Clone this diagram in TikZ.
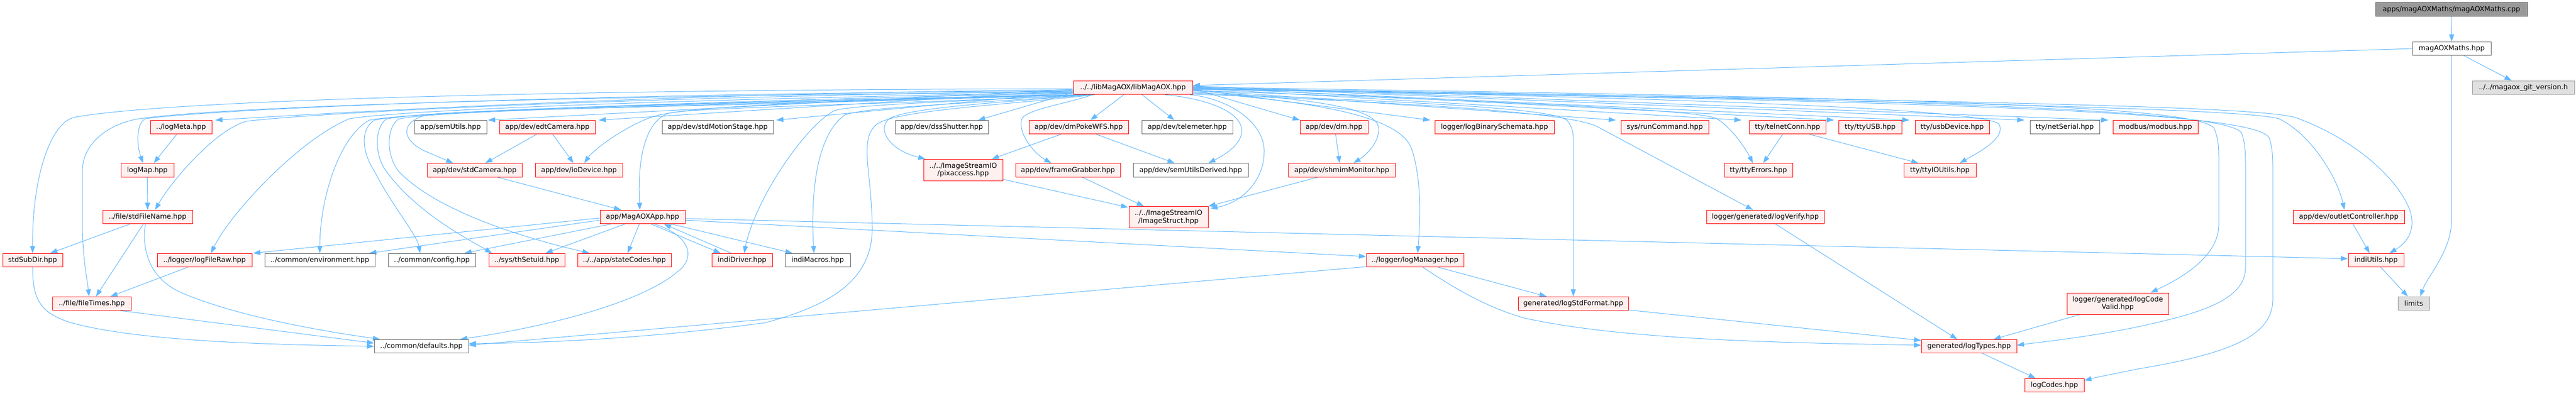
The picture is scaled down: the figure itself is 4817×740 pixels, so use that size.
\documentclass[tikz,border=0pt]{standalone}
\usepackage{fontspec}
\setmainfont{DejaVu Sans}
\usetikzlibrary{arrows.meta,calc,backgrounds}
\definecolor{edgeblue}{HTML}{63B8FF}
\definecolor{redfill}{HTML}{FFF0F0}
\definecolor{grayforty}{HTML}{666666}
\definecolor{graysixty}{HTML}{999999}
\definecolor{extfill}{HTML}{E0E0E0}
\begin{document}
\begin{tikzpicture}[x=0.75pt,y=-0.75pt,
  box/.style={draw, line width=0.75pt, inner sep=0pt, minimum height=19.1pt, align=center,
    font=\fontsize{9.7pt}{10.6pt}\selectfont, text=black},
  redbox/.style={box, draw=red, fill=redfill},
  graybox/.style={box, draw=grayforty, fill=white},
  extbox/.style={box, draw=graysixty, fill=extfill},
  rootbox/.style={box, draw=grayforty, fill=graysixty},
  nw/.style={minimum width=#1*0.75pt},
  twoline/.style={minimum height=30pt},
  dep/.style={draw=edgeblue, line width=0.75pt, -{Triangle[length=10pt,width=7pt]}}
]
\useasboundingbox (0,0) rectangle (4817,740);
% ---------- nodes ----------
\node[rootbox, nw=284, minimum height=19.5pt] (root) at (4584,17.7) {apps/magAOXMaths/magAOXMaths.cpp};
\node[graybox, nw=147] (mmhpp) at (4584.5,91) {magAOXMaths.hpp};
\node[redbox, nw=223] (lib) at (2118.5,164) {../../libMagAOX/libMagAOX.hpp};
\node[extbox, nw=191] (git) at (4718.5,164) {../../magaox\_git\_version.h};
% row 3
\node[redbox, nw=115] (logMeta) at (338.5,238) {../logMeta.hpp};
\node[graybox, nw=135] (semUtils) at (842.5,238) {app/semUtils.hpp};
\node[redbox, nw=179] (edtCamera) at (1023.5,238) {app/dev/edtCamera.hpp};
\node[graybox, nw=208] (stdMotion) at (1342,238) {app/dev/stdMotionStage.hpp};
\node[graybox, nw=174] (dssShutter) at (1761,238) {app/dev/dssShutter.hpp};
\node[redbox, nw=186] (dmPoke) at (2017,238) {app/dev/dmPokeWFS.hpp};
\node[graybox, nw=170] (telemeter) at (2220,238) {app/dev/telemeter.hpp};
\node[redbox, nw=127] (dm) at (2494.5,238) {app/dev/dm.hpp};
\node[redbox, nw=223] (logBinary) at (2794.5,238) {logger/logBinarySchemata.hpp};
\node[redbox, nw=164] (runCommand) at (3113,238) {sys/runCommand.hpp};
\node[redbox, nw=143] (telnet) at (3342.5,238) {tty/telnetConn.hpp};
\node[redbox, nw=118] (ttyUSB) at (3497,238) {tty/ttyUSB.hpp};
\node[redbox, nw=139] (usbDevice) at (3650.5,238) {tty/usbDevice.hpp};
\node[graybox, nw=130] (netSerial) at (3861,238) {tty/netSerial.hpp};
\node[redbox, nw=159] (modbus) at (4030.5,238) {modbus/modbus.hpp};
% row 4
\node[redbox, nw=99] (logMap) at (275.5,318.5) {logMap.hpp};
\node[redbox, nw=177] (stdCamera) at (887.5,318.5) {app/dev/stdCamera.hpp};
\node[redbox, nw=163] (ioDevice) at (1082.5,318.5) {app/dev/ioDevice.hpp};
\node[redbox, nw=148, twoline] (pixaccess) at (1801,318) {../../ImageStreamIO\\/pixaccess.hpp};
\node[redbox, nw=196] (frameGrabber) at (1997,318.5) {app/dev/frameGrabber.hpp};
\node[graybox, nw=215] (semDerived) at (2226.5,318.5) {app/dev/semUtilsDerived.hpp};
\node[redbox, nw=200] (shmim) at (2509,318.5) {app/dev/shmimMonitor.hpp};
\node[redbox, nw=128] (ttyErrors) at (3288,318.5) {tty/ttyErrors.hpp};
\node[redbox, nw=135] (ttyIO) at (3627.5,318.5) {tty/ttyIOUtils.hpp};
% row 5
\node[redbox, nw=168] (stdFileName) at (276,406) {../file/stdFileName.hpp};
\node[redbox, nw=159] (MagAOXApp) at (1201.5,406) {app/MagAOXApp.hpp};
\node[redbox, nw=148, twoline] (ImageStruct) at (2185,406.5) {../../ImageStreamIO\\/ImageStruct.hpp};
\node[redbox, nw=220] (logVerify) at (3301,406) {logger/generated/logVerify.hpp};
\node[redbox, nw=208] (outlet) at (4392,406) {app/dev/outletController.hpp};
% row 6
\node[redbox, nw=112] (stdSubDir) at (61,487) {stdSubDir.hpp};
\node[redbox, nw=177] (logFileRaw) at (382.5,487) {../logger/logFileRaw.hpp};
\node[graybox, nw=206] (environment) at (598,487) {../common/environment.hpp};
\node[graybox, nw=163] (config) at (807.5,487) {../common/config.hpp};
\node[redbox, nw=142] (thSetuid) at (985,487) {../sys/thSetuid.hpp};
\node[redbox, nw=175] (stateCodes) at (1167.5,487) {../../app/stateCodes.hpp};
\node[redbox, nw=113] (indiDriver) at (1387.5,487) {indiDriver.hpp};
\node[graybox, nw=122] (indiMacros) at (1529,487) {indiMacros.hpp};
\node[redbox, nw=182] (logManager) at (2646,487) {../logger/logManager.hpp};
\node[redbox, nw=104] (indiUtils) at (4443,487) {indiUtils.hpp};
% row 7
\node[redbox, nw=147] (fileTimes) at (171.5,568) {../file/fileTimes.hpp};
\node[redbox, nw=206] (logStdFormat) at (2942,568) {generated/logStdFormat.hpp};
\node[redbox, nw=190, twoline] (logCodeValid) at (3960,568) {logger/generated/logCode\\Valid.hpp};
\node[extbox, nw=59] (limits) at (4513.5,568) {limits};
% row 8, 9
\node[graybox, nw=176] (defaults) at (788,648) {../common/defaults.hpp};
\node[redbox, nw=178] (logTypes) at (3682,648) {generated/logTypes.hpp};
\node[redbox, nw=111] (logCodes) at (3841.5,721) {logCodes.hpp};
% ---------- edges ----------
\begin{scope}[on background layer]
\draw[dep] (root.south) -- (mmhpp.north);
\draw[dep] (mmhpp.west) -- ($(lib.east)+(0,-4)$);
\draw[dep] ($(mmhpp.south east)+(-51,0)$) -- ($(git.north)+(-22,0)$);
\draw[dep] (mmhpp.south) -- (4584.5,410) .. controls (4584.5,470) and (4540,515) .. ($(limits.north)+(12,0)$);
% lib -> left side
\draw[dep] ($(lib.west)+(0,2)$) .. controls (1000,168) and (320,188) .. (141,219) .. controls (95,227) and (60,330) .. (stdSubDir.north);
\draw[dep] ($(lib.west)+(0,8)$) .. controls (1000,180) and (420,200) .. (261,222) .. controls (200,232) and (154,270) .. (154,320) -- (154,420) .. controls (154,480) and (164,530) .. ($(fileTimes.north)+(-5,0)$);
\draw[dep] ($(lib.west)+(0,6)$) .. controls (1000,176) and (400,205) .. (272,222) .. controls (255,230) and (255,270) .. ($(logMap.north)+(-8,0)$);
\draw[dep] ($(lib.west)+(0,4)$) .. controls (1400,172) and (800,200) .. ($(logMeta.north east)+(6,0)$);
\draw[dep] ($(lib.west)+(0,7)$) .. controls (1200,180) and (600,210) .. (460,227) .. controls (400,245) and (320,340) .. ($(stdFileName.north)+(14,0)$);
\draw[dep] ($(lib.west)+(0,9)$) .. controls (1300,185) and (760,205) .. (654,222) .. controls (560,260) and (430,400) .. ($(logFileRaw.north)+(12,0)$);
\draw[dep] ($(lib.west)+(0,10)$) .. controls (1300,190) and (760,210) .. (690,225) .. controls (630,260) and (598,380) .. (environment.north);
\draw[dep] (lib.south west) .. controls (1400,190) and (780,205) .. (700,225) .. controls (670,245) and (680,290) .. (700,320) .. controls (730,380) and (780,440) .. ($(config.north)+(-22,0)$);
\draw[dep] ($(lib.south west)+(5,0)$) .. controls (1400,192) and (790,205) .. (722,223) .. controls (700,240) and (700,290) .. (722,320) .. controls (780,400) and (880,450) .. ($(thSetuid.north)+(-65,0)$);
\draw[dep] ($(lib.south west)+(10,0)$) .. controls (1400,195) and (810,205) .. (745,223) .. controls (722,240) and (722,290) .. (745,320) .. controls (820,400) and (1000,450) .. ($(stateCodes.north)+(-65,0)$);
\draw[dep] ($(lib.south west)+(15,0)$) .. controls (1400,198) and (860,205) .. (800,215) .. controls (750,225) and (745,262) .. (800,285) -- ($(stdCamera.north)+(-40,0)$);
\draw[dep] ($(lib.west)+(0,3)$) -- ($(semUtils.north east)+(2,0)$);
\draw[dep] ($(lib.west)+(0,5)$) -- ($(edtCamera.north east)+(6,0)$);
\draw[dep] ($(lib.west)+(0,8)$) -- ($(stdMotion.north east)+(5,0)$);
\draw[dep] ($(lib.west)+(0,11)$) .. controls (1600,190) and (1300,195) .. (1222,218) .. controls (1170,235) and (1110,280) .. ($(ioDevice.north)+(10,0)$);
\draw[dep] ($(lib.south west)+(20,0)$) .. controls (1700,195) and (1300,200) .. (1250,212) .. controls (1205,228) and (1192,300) .. ($(MagAOXApp.north)+(-5,0)$);
\draw[dep] ($(lib.south west)+(25,0)$) .. controls (1800,190) and (1600,195) .. (1560,207) .. controls (1500,240) and (1410,380) .. ($(indiDriver.north)+(4,0)$);
\draw[dep] ($(lib.south west)+(30,0)$) .. controls (1800,195) and (1620,200) .. (1580,215) .. controls (1530,250) and (1515,350) .. ($(indiMacros.north)+(-7,0)$);
\draw[dep] ($(lib.west)+(0,9)$) -- ($(dssShutter.north)+(68,0)$);
\draw[dep] ($(lib.south west)+(35,0)$) .. controls (1900,190) and (1700,200) .. (1663,222) .. controls (1640,240) and (1660,280) .. ($(pixaccess.north west)+(4,0)$);
\draw[dep] ($(lib.south west)+(40,0)$) .. controls (1900,195) and (1680,205) .. (1640,232) .. controls (1605,260) and (1630,320) .. (1631,425) .. controls (1632,520) and (1560,570) .. (1430,604) .. controls (1200,635) and (1000,642) .. ($(defaults.east)+(0,-5)$);
\draw[dep] ($(lib.south)+(-75,0)$) .. controls (1990,195) and (1920,205) .. (1911,222) .. controls (1902,245) and (1930,285) .. ($(frameGrabber.north)+(-31,0)$);
\draw[dep] ($(lib.south)+(-17,0)$) -- ($(dmPoke.north)+(22,0)$);
\draw[dep] ($(lib.south)+(17,0)$) -- ($(telemeter.north)+(-24,0)$);
\draw[dep] ($(lib.south)+(60,0)$) .. controls (2260,185) and (2322,210) .. (2322,245) .. controls (2322,270) and (2290,290) .. ($(semDerived.north)+(33,0)$);
\draw[dep] ($(lib.south east)+(-5,0)$) .. controls (2300,185) and (2364,230) .. (2364,283) .. controls (2364,340) and (2320,380) .. ($(ImageStruct.north east)+(4,4)$);
% lib -> right side
\draw[dep] ($(lib.east)+(0,2)$) -- (dm.north west);
\draw[dep] ($(lib.east)+(0,6)$) .. controls (2450,185) and (2575,200) .. (2578,240) .. controls (2580,265) and (2555,290) .. ($(shmim.north)+(22,0)$);
\draw[dep] ($(lib.east)+(0,8)$) .. controls (2450,190) and (2620,215) .. (2640,280) .. controls (2660,340) and (2655,420) .. ($(logManager.north)+(5,0)$);
\draw[dep] ($(lib.east)+(0,3)$) -- ($(logBinary.north west)+(-8,0)$);
\draw[dep] ($(lib.east)+(0,10)$) .. controls (2600,190) and (2900,200) .. (2930,225) .. controls (2942,240) and (2942,250) .. (2942,270) -- (logStdFormat.north);
\draw[dep] ($(lib.east)+(0,4)$) -- ($(runCommand.north west)+(-9,0)$);
\draw[dep] ($(lib.east)+(0,12)$) .. controls (2700,195) and (2930,212) .. (2985,236) -- ($(logVerify.north)+(-23,0)$);
\draw[dep] ($(lib.east)+(0,1)$) -- ($(telnet.north west)+(-14,0)$);
\draw[dep] ($(lib.east)+(0,5)$) .. controls (2800,190) and (3180,205) .. (3210,222) .. controls (3240,240) and (3265,280) .. ($(ttyErrors.north)+(-10,0)$);
\draw[dep] ($(lib.east)+(0,-1)$) -- ($(ttyUSB.north west)+(-8,0)$);
\draw[dep] ($(lib.east)+(0,0)$) -- ($(usbDevice.north west)+(-10,0)$);
\draw[dep] ($(lib.east)+(0,2)$) .. controls (3000,180) and (3700,200) .. (3738,232) .. controls (3752,258) and (3700,285) .. ($(ttyIO.north)+(37,0)$);
\draw[dep] ($(lib.east)+(0,-2)$) -- ($(netSerial.north west)+(-10,0)$);
\draw[dep] ($(lib.east)+(0,-3)$) -- ($(modbus.north west)+(-8,0)$);
\draw[dep] ($(lib.east)+(0,-1)$) .. controls (3500,182) and (4110,195) .. (4140,240) .. controls (4149,260) and (4149,280) .. (4149,300) -- (4149,420) .. controls (4149,480) and (4080,520) .. ($(logCodeValid.north east)+(-34,0)$);
\draw[dep] ($(lib.east)+(0,1)$) .. controls (3600,185) and (4175,205) .. (4192,250) .. controls (4199,270) and (4199,290) .. (4199,320) -- (4199,500) .. controls (4199,560) and (4120,585) .. (4000,611) .. controls (3900,632) and (3800,642) .. ($(logTypes.east)+(0,-2)$);
\draw[dep] ($(lib.east)+(0,3)$) .. controls (3700,190) and (4232,210) .. (4244,260) .. controls (4250,280) and (4250,300) .. (4250,320) -- (4250,560) .. controls (4250,625) and (4180,660) .. (4000,690) .. controls (3950,700) and (3920,706) .. ($(logCodes.east)+(0,-9)$);
\draw[dep] ($(lib.east)+(0,3)$) .. controls (3700,190) and (4200,205) .. (4261,222) .. controls (4320,250) and (4370,330) .. ($(outlet.north)+(-8,0)$);
\draw[dep] ($(lib.east)+(0,2)$) .. controls (3800,190) and (4250,200) .. (4298,222) .. controls (4400,260) and (4480,330) .. (4505,390) .. controls (4520,430) and (4500,455) .. ($(indiUtils.north)+(25,0)$);
% MagAOXApp
\draw[dep] ($(MagAOXApp.west)+(0,2)$) -- ($(logFileRaw.north east)+(2,0)$);
\draw[dep] ($(MagAOXApp.west)+(0,6)$) -- ($(environment.north east)+(-11,0)$);
\draw[dep] ($(MagAOXApp.south west)+(21,0)$) -- ($(config.north east)+(-21,0)$);
\draw[dep] ($(MagAOXApp.south west)+(47,0)$) -- ($(thSetuid.north)+(35,0)$);
\draw[dep] ($(MagAOXApp.south)+(-6,0)$) -- ($(stateCodes.north)+(6,0)$);
\draw[dep] ($(MagAOXApp.south)+(22,0)$) .. controls (1290,440) and (1300,480) .. (1271,505) .. controls (1200,570) and (1000,615) .. ($(defaults.north east)+(-16,0)$);
\draw[dep] ($(MagAOXApp.south)+(16,0)$) -- ($(indiDriver.north)+(-40,0)$);
\draw[dep] ($(indiDriver.north)+(-20,0)$) -- ($(MagAOXApp.south)+(40,0)$);
\draw[dep] ($(MagAOXApp.south east)+(-26,0)$) -- ($(indiMacros.north)+(-47,0)$);
\draw[dep] ($(MagAOXApp.east)+(0,6)$) -- ($(logManager.west)+(0,-7)$);
\draw[dep] ($(MagAOXApp.east)+(0,3)$) -- ($(indiUtils.west)+(0,-3)$);
% others
\draw[dep] ($(logMeta.south)+(-8,0)$) -- ($(logMap.north)+(12,0)$);
\draw[dep] (logMap.south) -- (stdFileName.north);
\draw[dep] ($(stdFileName.south)+(-33,0)$) -- ($(stdSubDir.north)+(33,0)$);
\draw[dep] ($(stdFileName.south)+(-8,0)$) -- ($(fileTimes.north)+(8,0)$);
\draw[dep] ($(stdFileName.south)+(-4,0)$) .. controls (265,460) and (275,520) .. (340,548) .. controls (450,595) and (620,622) .. ($(defaults.north west)+(11,0)$);
\draw[dep] ($(logFileRaw.south)+(-32,0)$) -- ($(fileTimes.north)+(35,0)$);
\draw[dep] (stdSubDir.south) .. controls (61,560) and (75,585) .. (130,603) .. controls (260,640) and (520,645) .. (defaults.west);
\draw[dep] ($(fileTimes.south east)+(-20,0)$) -- ($(defaults.west)+(0,-6)$);
\draw[dep] ($(edtCamera.south)+(-20,0)$) -- ($(stdCamera.north)+(20,0)$);
\draw[dep] ($(edtCamera.south)+(10,0)$) -- ($(ioDevice.north)+(-10,0)$);
\draw[dep] ($(stdCamera.south)+(43,0)$) -- ($(MagAOXApp.north)+(-40,0)$);
\draw[dep] ($(dmPoke.south)+(-33,0)$) -- ($(pixaccess.north east)+(-21,0)$);
\draw[dep] ($(dmPoke.south)+(33,0)$) -- ($(semDerived.north)+(-30,0)$);
\draw[dep] ($(pixaccess.south east)+(0,-3)$) -- ($(ImageStruct.north west)+(-1,2)$);
\draw[dep] ($(frameGrabber.south)+(27,0)$) -- ($(ImageStruct.north)+(-46,0)$);
\draw[dep] ($(shmim.south west)+(55,0)$) -- (ImageStruct.north east);
\draw[dep] ($(dm.south)+(3,0)$) -- ($(shmim.north)+(-4,0)$);
\draw[dep] ($(logManager.south)+(44,0)$) -- ($(logStdFormat.north)+(-50,0)$);
\draw[dep] ($(logManager.south)+(15,0)$) .. controls (2720,540) and (2780,575) .. (2850,595) .. controls (3050,640) and (3400,642) .. ($(logTypes.west)+(0,-2)$);
\draw[dep] ($(logManager.west)+(0,12)$) -- ($(defaults.east)+(0,-2)$);
\draw[dep] ($(logStdFormat.east)+(0,12)$) -- ($(logTypes.west)+(0,-11)$);
\draw[dep] ($(logVerify.south)+(19,0)$) -- ($(logTypes.north)+(-22,0)$);
\draw[dep] ($(logCodeValid.south west)+(25,0)$) -- ($(logTypes.north)+(46,0)$);
\draw[dep] ($(logTypes.south)+(25,0)$) -- ($(logCodes.north)+(-35,0)$);
\draw[dep] ($(telnet.south)+(-9,0)$) -- ($(ttyErrors.north)+(9,0)$);
\draw[dep] ($(telnet.south)+(41,0)$) -- ($(ttyIO.north)+(-40,0)$);
\draw[dep] ($(outlet.south)+(8,0)$) -- ($(indiUtils.north)+(-12,0)$);
\draw[dep] ($(indiUtils.south)+(9,0)$) -- ($(limits.north)+(-11,0)$);
\end{scope}
\end{tikzpicture}
\end{document}
